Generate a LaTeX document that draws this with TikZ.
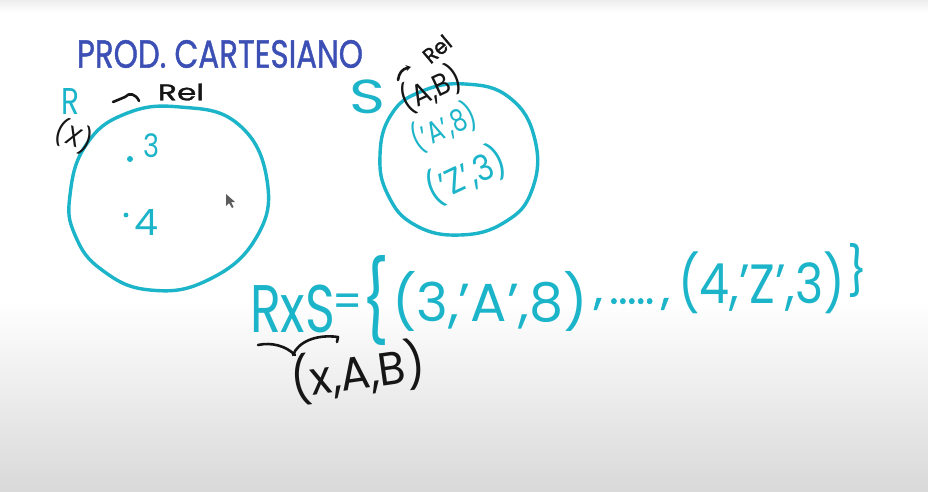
\documentclass[tikz,border=0pt]{standalone}
\usepackage{fontspec}
\setmainfont{Poppins}
\newfontfamily\thick[FakeBold=1.2]{Poppins}
\usepackage{graphicx}
\usetikzlibrary{arrows.meta}
\definecolor{cy}{HTML}{1CB4C9}
\definecolor{tb}{HTML}{3B4FB5}
\definecolor{ink}{HTML}{161616}
\newcommand\hw[3]{\resizebox*{#1pt}{#2pt}{#3}}
\begin{document}
\begin{tikzpicture}[x=1pt,y=-1pt,
  txt/.style={inner sep=0pt, outer sep=0pt},
  pen/.style={line width=3.4pt, line cap=round, line join=round},
  inkpen/.style={ink, line width=2.6pt, line cap=round, line join=round}]
\useasboundingbox (0,0) rectangle (928,492);
\fill[white] (0,0) rectangle (928,492);
\shade[top color=white, bottom color=black!15] (0,300) rectangle (928,492);
\shade[top color=black!7, bottom color=white] (0,0) rectangle (928,12);

% title
\node[txt,tb,anchor=west] (title) at (77,54) {\hw{286}{28}{\thick PROD. CARTESIANO}};

% left set R
\draw[pen,cy] plot[smooth cycle, tension=0.75] coordinates {(70,195) (86,145) (125,114) (180,107) (238,124) (267,180) (256,238) (208,280) (150,290) (102,270) (75,235)};
\node[txt,cy] (R) at (71,101) {\hw{18}{26}{R}};
\node[txt,ink,rotate=-22] (X) at (74,136) {\hw{38}{30}{(X)}};
\draw[inkpen] (113,102) -- (125,97) .. controls (129,92) and (136,94) .. (139,101);
\node[txt,ink] (relR) at (181,92) {\hw{46}{17}{\thick Rel}};
\fill[cy] (130,159) circle (3pt);
\node[txt,cy] (n3) at (151,146) {\hw{16}{24}{3}};
\fill[cy] (126,215) circle (2.4pt);
\node[txt,cy] (n4) at (146,222) {\hw{24}{26}{4}};
\fill[ink!70] (226,194) -- (226,206) -- (229,203) -- (232,208) -- (233.5,207) -- (231,202) -- (235,202) -- cycle;

% right set S
\draw[pen,cy] plot[smooth cycle, tension=0.75] coordinates {(380,155) (391,115) (420,92) (465,84) (510,98) (535,140) (532,190) (505,222) (460,235) (415,225) (388,195)};
\node[txt,cy] (S) at (368,97) {\hw{36}{34}{S}};
\node[txt,ink,rotate=25] (AB) at (431,89) {\hw{64}{34}{(A,B)}};
\node[txt,ink,rotate=40] (relS) at (437,49) {\hw{30}{16}{\thick Rel}};
\draw[inkpen,-{Stealth[length=5pt,width=6pt]}] (398,80) .. controls (399,73) and (402,69) .. (411,67);
\node[txt,cy,rotate=25] (t1) at (444,127) {\hw{68}{34}{('A',8)}};
\node[txt,cy,rotate=25] (t2) at (466,175) {\hw{84}{40}{('Z',3)}};

% cartesian product
\node[txt,cy,anchor=south west] (RxS) at (250,333) {\hw{85}{48}{RxS}};
\node[txt,cy] (eq) at (348,306) {\scalebox{4.2}[4.6]{=}};
\node[txt,cy] (lb) at (375,300) {\hw{28}{90}{\{}};
\node[txt,cy,anchor=west] (tA) at (392,301) {\hw{196}{60}{(3,'A',8)}};
\node[txt,cy,anchor=west] (dots) at (594,304) {\scalebox{1.25}[1.3]{\fontsize{34}{34}\selectfont\thick ,\,.....\,,}};
\node[txt,cy,anchor=west] (tZ) at (678,283) {\hw{167}{62}{(4,'Z',3)}};
\node[txt,cy] (rb) at (857,271) {\hw{20}{54}{\}}};

% (x,A,B)
\draw[inkpen] (258,345) .. controls (272,342) and (286,346) .. (295,355);
\draw[inkpen] (293,355) .. controls (298,342) and (316,334) .. (338,337) -- (337,342);
\node[txt,ink,rotate=8] (xAB) at (358,372) {\hw{136}{52}{(x,A,B)}};
\end{tikzpicture}
\end{document}
